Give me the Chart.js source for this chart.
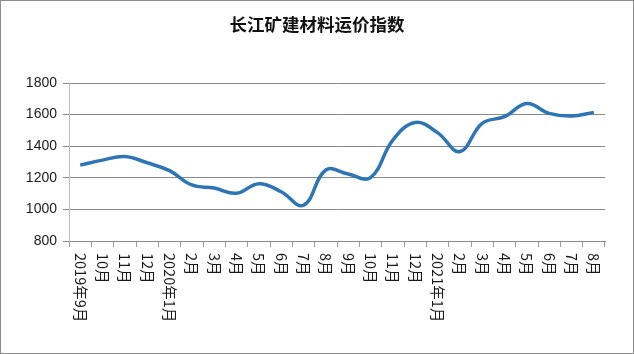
<!DOCTYPE html>
<html>
<head>
<meta charset="utf-8">
<script src="https://cdn.jsdelivr.net/npm/chart.js@4.4.0/dist/chart.umd.min.js"></script>
<style>
  html, body { margin: 0; padding: 0; background: #fff; }
  #wrap { width: 634px; height: 354px; box-sizing: border-box; border: 1px solid #8c8c8c; }
  #chart { display: block; }
</style>
</head>
<body>
<div id="wrap"><canvas id="chart" width="632" height="352"></canvas></div>
<script>
const title = '长江矿建材料运价指数';

const months = [
  '2019年9月', '10月', '11月', '12月',
  '2020年1月', '2月', '3月', '4月', '5月', '6月', '7月', '8月', '9月', '10月', '11月', '12月',
  '2021年1月', '2月', '3月', '4月', '5月', '6月', '7月', '8月'
];

const freightIndex = [
  1280, 1312, 1335, 1295, 1245, 1155, 1135, 1102, 1163, 1112, 1026, 1249,
  1224, 1201, 1439, 1550, 1486, 1366, 1545, 1587, 1670, 1608, 1591, 1614
];

const yMin = 800;
const yMax = 1800;
const yStep = 200;

// draw x labels rotated +90deg (top to bottom), like the excel chart
const verticalLabels = {
  id: 'verticalLabels',
  afterDraw(chart) {
    const x = chart.scales.x;
    const ctx = chart.ctx;
    ctx.save();
    ctx.fillStyle = '#1a1a1a';
    ctx.font = '14.5px "Noto Sans CJK SC"';
    ctx.textAlign = 'left';
    ctx.textBaseline = 'middle';
    months.forEach((m, i) => {
      const px = x.getPixelForTick(i);
      ctx.save();
      ctx.translate(px, x.top + 12);
      ctx.rotate(Math.PI / 2);
      ctx.fillText(m, 0, 0);
      ctx.restore();
    });
    ctx.restore();
  }
};

new Chart(document.getElementById('chart'), {
  type: 'line',
  data: {
    labels: months,
    datasets: [{
      data: freightIndex,
      borderColor: '#2e75b6',
      borderWidth: 3.5,
      tension: 0.4,
      pointRadius: 0,
      fill: false
    }]
  },
  options: {
    responsive: false,
    animation: false,
    layout: { padding: 0 },
    plugins: {
      legend: { display: false },
      tooltip: { enabled: false },
      title: {
        display: true,
        text: title,
        color: '#111',
        font: { family: '"Noto Sans CJK SC"', size: 17.5, weight: 'bold', lineHeight: 1.2 },
        padding: { top: 13, bottom: 48 }
      }
    },
    scales: {
      x: {
        offset: true,
        grid: { offset: true, drawOnChartArea: false, tickLength: 6, color: '#9a9a9a' },
        border: { color: '#8a8a8a' },
        ticks: { color: 'transparent', autoSkip: false, minRotation: 90, maxRotation: 90 },
        afterFit(scale) { scale.height = 112; }
      },
      y: {
        min: yMin,
        max: yMax,
        grid: { color: '#8a8a8a', tickLength: 6 },
        border: { color: '#bdbdbd' },
        ticks: {
          stepSize: yStep,
          padding: 6,
          color: '#1a1a1a',
          font: { family: '"Liberation Sans"', size: 14 },
          callback: v => String(v)
        },
        afterFit(scale) { scale.width = 68; }
      },
      // empty right axis, only to leave the blank margin on the right
      spacer: {
        position: 'right',
        min: yMin,
        max: yMax,
        grid: { display: false },
        border: { display: false },
        ticks: { display: false },
        afterFit(scale) { scale.width = 28; }
      }
    }
  },
  plugins: [verticalLabels]
});
</script>
</body>
</html>
